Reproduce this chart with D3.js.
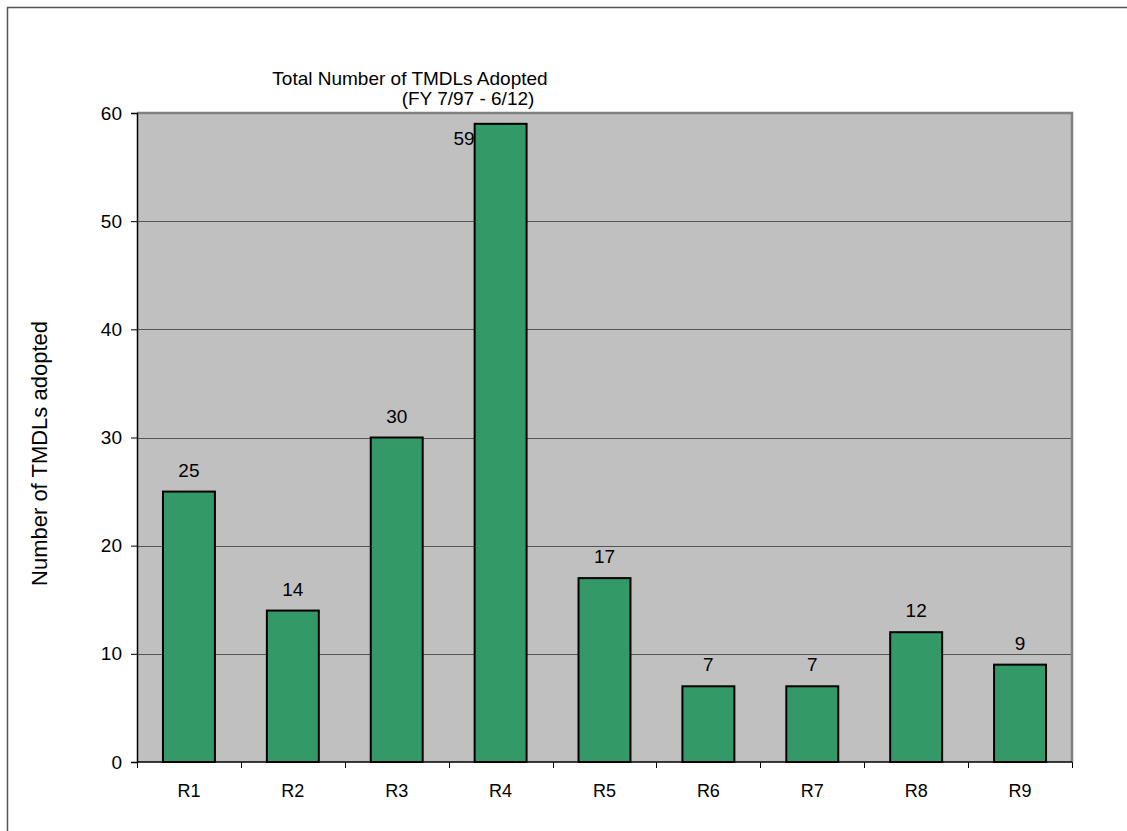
<!DOCTYPE html>
<html>
<head>
<meta charset="utf-8">
<script src="https://cdn.jsdelivr.net/npm/d3@7"></script>
<style>
  html, body { margin: 0; padding: 0; background: #fff; }
  svg text { font-family: "Liberation Sans", Arial, sans-serif; fill: #000; }
</style>
</head>
<body>
<svg id="chart" width="1127" height="831"></svg>
<script>
// TMDLs adopted per region, FY 7/97 - 6/12
const regions = ["R1", "R2", "R3", "R4", "R5", "R6", "R7", "R8", "R9"];
const tmdlCounts = [25, 14, 30, 59, 17, 7, 7, 12, 9];
const yTicks = [0, 10, 20, 30, 40, 50, 60];

const svg = d3.select("#chart");
const plot = { left: 137, top: 113, right: 1072, bottom: 762 };

// outer chart frame
svg.append("path")
  .attr("d", "M7.5,831 L7.5,7.5 L1127,7.5")
  .attr("fill", "none")
  .attr("stroke", "#555")
  .attr("stroke-width", 1.5);

const x = d3.scaleBand().domain(regions).range([plot.left, plot.right]).paddingInner(0.5).paddingOuter(0.25);
const y = d3.scaleLinear().domain([0, 60]).range([plot.bottom, plot.top]);

// plot area background
svg.append("rect")
  .attr("x", plot.left).attr("y", plot.top)
  .attr("width", plot.right - plot.left).attr("height", plot.bottom - plot.top)
  .attr("fill", "#c0c0c0");

// horizontal gridlines
svg.append("g").selectAll("line")
  .data(yTicks.filter(d => d > 0 && d < 60))
  .join("line")
  .attr("x1", plot.left).attr("x2", plot.right)
  .attr("y1", d => Math.round(y(d)) + 0.5).attr("y2", d => Math.round(y(d)) + 0.5)
  .attr("stroke", "#555").attr("stroke-width", 1);

// plot area border (top and right)
svg.append("path")
  .attr("d", `M${plot.left},${plot.top} L${plot.right},${plot.top} L${plot.right},${plot.bottom}`)
  .attr("fill", "none").attr("stroke", "#808080").attr("stroke-width", 2.5);

// bars
svg.append("g").selectAll("rect")
  .data(regions.map((r, i) => ({ r, v: tmdlCounts[i] })))
  .join("rect")
  .attr("x", d => x(d.r))
  .attr("y", d => y(d.v))
  .attr("width", x.bandwidth())
  .attr("height", d => y(0) - y(d.v))
  .attr("fill", "#339966")
  .attr("stroke", "#000")
  .attr("stroke-width", 2);

// y axis
const yAxis = svg.append("g")
  .attr("transform", `translate(${plot.left},0)`)
  .call(d3.axisLeft(y).tickValues(yTicks).tickSize(6).tickPadding(9));
yAxis.select(".domain").attr("stroke", "#000").attr("stroke-width", 1.5);
yAxis.selectAll(".tick line").attr("stroke", "#000");
yAxis.selectAll(".tick text")
  .attr("font-family", null).attr("font-size", null)
  .style("font-size", "19px").attr("fill", "#000");

// x axis with ticks on category boundaries
const step = x.step();
const boundaries = d3.range(regions.length + 1).map(i => plot.left + i * step);
svg.append("line")
  .attr("x1", plot.left).attr("x2", plot.right)
  .attr("y1", plot.bottom).attr("y2", plot.bottom)
  .attr("stroke", "#000").attr("stroke-width", 1.5);
svg.append("g").selectAll("line")
  .data(boundaries)
  .join("line")
  .attr("x1", d => Math.round(d) + 0.5).attr("x2", d => Math.round(d) + 0.5)
  .attr("y1", plot.bottom).attr("y2", plot.bottom + 6)
  .attr("stroke", "#000");
svg.append("g").selectAll("text")
  .data(regions)
  .join("text")
  .attr("x", d => x(d) + x.bandwidth() / 2)
  .attr("y", plot.bottom + 35)
  .attr("text-anchor", "middle")
  .style("font-size", "18px")
  .text(d => d);

// value labels; a label that would leave the plot sits beside its bar
const outside = d => y(d.v) - 26 < plot.top;
svg.append("g").selectAll("text")
  .data(regions.map((r, i) => ({ r, v: tmdlCounts[i] })))
  .join("text")
  .attr("x", d => outside(d) ? x(d.r) : x(d.r) + x.bandwidth() / 2)
  .attr("y", d => outside(d) ? y(d.v) + 21 : y(d.v) - 15)
  .attr("text-anchor", d => outside(d) ? "end" : "middle")
  .style("font-size", "19px")
  .text(d => d.v);

// titles
svg.append("text")
  .attr("x", 410).attr("y", 85)
  .attr("text-anchor", "middle")
  .style("font-size", "19px")
  .text("Total Number of TMDLs Adopted");
svg.append("text")
  .attr("x", 468).attr("y", 105)
  .attr("text-anchor", "middle")
  .style("font-size", "19px")
  .text("(FY 7/97 - 6/12)");

svg.append("text")
  .attr("transform", `translate(47,${(plot.top + plot.bottom) / 2 + 16}) rotate(-90)`)
  .attr("text-anchor", "middle")
  .style("font-size", "22px")
  .text("Number of TMDLs adopted");
</script>
</body>
</html>
